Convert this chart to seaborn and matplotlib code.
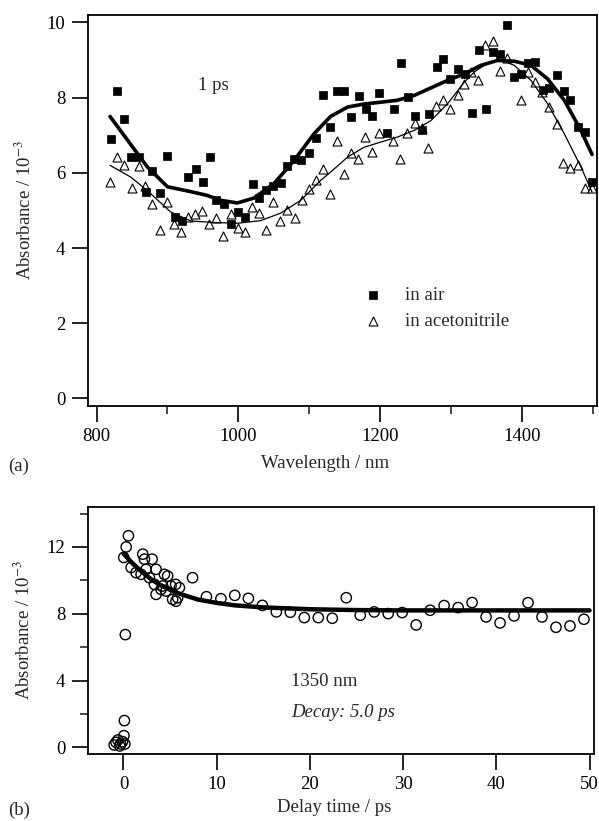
import numpy as np
import pandas as pd
import matplotlib
matplotlib.use("Agg")
import matplotlib.pyplot as plt
import seaborn as sns
from matplotlib.ticker import MultipleLocator

# ==== dados (a): espectro a 1 ps
ar_x = [820, 829, 838.5, 849, 860, 870, 878.6, 889, 900, 910.5, 920, 929, 940, 950, 959.5,
        968, 980, 990, 1000, 1009, 1020, 1029, 1038.5, 1049, 1060, 1069, 1078.5, 1088, 1100,
        1109.5, 1119, 1129, 1139, 1149, 1159, 1170, 1179.5, 1189, 1198.5, 1209, 1219.7, 1229,
        1239, 1249, 1258.7, 1269, 1280, 1289, 1298.6, 1309, 1319.7, 1329, 1339.6, 1349, 1359,
        1368.7, 1379.5, 1389, 1398, 1408.8, 1418.6, 1429, 1438.4, 1448.8, 1459.6, 1468, 1478.4,
        1488.8, 1498.7]
ar_y = [6.9, 8.19, 7.42, 6.42, 6.42, 5.49, 6.06, 5.46, 6.45, 4.83, 4.72, 5.9, 6.09, 5.75, 6.42,
        5.28, 5.17, 4.63, 4.96, 4.83, 5.7, 5.34, 5.55, 5.66, 5.73, 6.18, 6.37, 6.33, 6.52,
        6.93, 8.06, 7.23, 8.19, 8.17, 7.48, 8.04, 7.7, 7.5, 8.13, 7.06, 7.69, 8.93,
        8.02, 7.5, 7.13, 7.57, 8.81, 9.02, 8.5, 8.77, 8.62, 7.6, 9.26, 7.7, 9.21,
        9.15, 9.92, 8.55, 8.62, 8.92, 8.94, 8.21, 8.26, 8.59, 8.19, 7.95, 7.22,
        7.1, 5.76]

acn_x = [818.8, 829, 838.5, 849.4, 859.7, 869, 878.6, 889, 898.8, 909, 918.6, 929, 938.7, 949,
         958.5, 969, 978.7, 989, 999.3, 1009.3, 1018.8, 1029, 1039.4, 1048.8, 1058.7, 1069,
         1079.5, 1089.3, 1099.7, 1109, 1119, 1129, 1138.7, 1149, 1159.4, 1168.8, 1178.7, 1189,
         1198.5, 1218, 1228, 1238.4, 1248.8, 1258.7, 1268, 1278.5, 1288.8, 1298, 1309, 1318.5,
         1328, 1338.3, 1348, 1358.5, 1368.7, 1378.7, 1398.4, 1408.7, 1418.2, 1428, 1438.4,
         1448.8, 1458, 1468, 1478.4, 1488.8, 1498.7]
acn_y = [5.75, 6.42, 6.22, 5.6, 6.18, 5.66, 5.16, 4.47, 5.22, 4.65, 4.42, 4.82, 4.91, 4.98,
         4.65, 4.8, 4.32, 4.91, 4.54, 4.44, 5.09, 4.93, 4.48, 5.22, 4.73, 5.0,
         4.8, 5.28, 5.58, 5.8, 6.11, 5.43, 6.84, 5.97, 6.52, 6.37, 6.96, 6.56,
         7.06, 6.84, 6.37, 7.06, 7.32, 7.19, 6.66, 7.77, 7.94, 7.7, 8.07, 8.37,
         8.68, 8.48, 9.41, 9.5, 8.72, 9.06, 7.94, 8.68, 8.41, 8.15, 7.75,
         7.31, 6.27, 6.13, 6.22, 5.6, 5.6]

# curvas suavizadas
ar_fit_x = [819, 871.5, 900, 933, 956, 975, 998.6, 1022, 1050, 1078.5, 1106.7, 1130, 1154, 1177,
            1201, 1224, 1248, 1271.5, 1295, 1318.5, 1342, 1365.6, 1389, 1412.6, 1436, 1459.6,
            1483, 1498.7]
ar_fit_y = [7.5, 6.16, 5.63, 5.5, 5.4, 5.27, 5.2, 5.33, 5.71, 6.33, 7.04, 7.5, 7.75, 7.83,
            7.88, 7.93, 8.06, 8.26, 8.46, 8.63, 8.86, 8.99, 8.97, 8.86, 8.5, 7.93,
            7.13, 6.49]
acn_fit_x = [819, 848, 871.5, 904.5, 933, 965.6, 998.6, 1031.5, 1059.7, 1088, 1116, 1130, 1154,
             1177, 1201, 1224, 1248, 1271.5, 1295, 1318.5, 1332.5, 1351.4, 1370, 1389, 1412.6,
             1436, 1459.6, 1483, 1498.7]
acn_fit_y = [6.2, 5.89, 5.53, 4.96, 4.72, 4.68, 4.66, 4.73, 4.93, 5.27, 5.8, 6.02, 6.42,
             6.68, 6.82, 6.95, 7.13, 7.39, 7.84, 8.41, 8.68, 8.92, 9.0, 8.86, 8.46,
             7.84, 7.04, 6.16, 5.49]

# ==== dados (b): cinética a 1350 nm
t = [-1.0, -0.6, -0.3, -0.1, -0.4, -0.8, 0.05, 0.1, 0.15, 0.2, 0.03, 0.29, 0.53,
     0.82, 1.35, 1.89, 2.07, 2.25, 2.42, 2.78, 3.07, 3.32, 3.5, 3.5, 4.03, 4.2, 4.39, 4.56,
     4.74, 5.1, 5.27, 5.6, 5.63, 5.81, 6.0, 7.41, 8.9, 10.45, 11.94, 13.4, 14.9, 16.4,
     17.9, 19.4, 20.9, 22.4, 23.9, 25.4, 26.9, 28.4, 29.9, 31.4, 32.9, 34.4, 35.9,
     37.4, 38.9, 40.4, 41.9, 43.4, 44.9, 46.4, 47.9, 49.4]
absb = [0.14, 0.44, 0.2, 0.34, 0.08, 0.3, 0.7, 1.6, 0.2, 6.75, 11.37, 12.0, 12.67,
        10.77, 10.46, 10.36, 11.57, 11.27, 10.66, 10.16, 11.27, 9.76, 10.66, 9.16, 9.46, 9.66,
        10.36, 9.36, 10.26, 9.66, 8.86, 9.76, 8.75, 8.96, 9.56, 10.16, 9.02, 8.9, 9.1, 8.92,
        8.5, 8.11, 8.09, 7.77, 7.77, 7.73, 8.96, 7.91, 8.11, 8.01, 8.07, 7.33, 8.21,
        8.49, 8.37, 8.67, 7.81, 7.45, 7.87, 8.66, 7.81, 7.19, 7.27, 7.67]
t_fit = [0, 1, 2, 3, 4, 5, 6, 8, 10, 12, 15, 20, 25, 30, 40, 50]
abs_fit = [11.6, 11.0, 10.5, 10.05, 9.7, 9.45, 9.2, 8.85, 8.65, 8.5, 8.38, 8.27, 8.22,
           8.2, 8.2, 8.2]

df_ar = pd.DataFrame({"x": ar_x, "y": ar_y})
df_acn = pd.DataFrame({"x": acn_x, "y": acn_y})
df_b = pd.DataFrame({"t": t, "a": absb})

sns.set_style("ticks")
plt.rcParams["font.family"] = ["Liberation Serif", "DejaVu Serif"]
plt.rcParams["mathtext.fontset"] = "stix"
fs = 13.5

fig = plt.figure(figsize=(5.99, 8.21), dpi=100)
ax1 = fig.add_axes([0.147, 0.5055, 0.850, 0.4763])
ax2 = fig.add_axes([0.147, 0.0816, 0.845, 0.301])

# ==== (a)
sns.scatterplot(data=df_acn, x="x", y="y", ax=ax1, marker="^", s=42, facecolor="white",
                edgecolor="black", linewidth=0.8, label="in acetonitrile", zorder=3)
sns.scatterplot(data=df_ar, x="x", y="y", ax=ax1, marker="s", s=38, color="black",
                edgecolor="black", linewidth=0.5, label="in air", zorder=4)
sns.lineplot(x=ar_fit_x, y=ar_fit_y, ax=ax1, color="black", linewidth=2.6, zorder=5)
sns.lineplot(x=acn_fit_x, y=acn_fit_y, ax=ax1, color="black", linewidth=0.9, zorder=5)

ax1.set_xlim(788, 1506)
ax1.set_ylim(-0.2, 10.2)
ax1.xaxis.set_major_locator(MultipleLocator(200))
ax1.xaxis.set_minor_locator(MultipleLocator(100))
ax1.yaxis.set_major_locator(MultipleLocator(2))
ax1.set_xlabel("Wavelength / nm", fontsize=fs)
ax1.set_ylabel("Absorbance / 10$^{-3}$", fontsize=fs)
ax1.xaxis.set_label_coords(0.466, -0.125)
ax1.yaxis.set_label_coords(-0.105, 0.5)
ax1.text(965, 8.32, "1 ps", fontsize=fs, ha="center", va="center")

h, l = ax1.get_legend_handles_labels()
ax1.legend([h[1], h[0]], [l[1], l[0]], loc="center left", bbox_to_anchor=(0.541, 0.249),
           frameon=False, fontsize=fs, handlelength=1.0, handletextpad=1.2, borderpad=0,
           borderaxespad=0, labelspacing=0.45)

# ==== (b)
sns.scatterplot(data=df_b, x="t", y="a", ax=ax2, marker="o", s=55, facecolor="none",
                edgecolor="black", linewidth=1.0, zorder=3)
sns.lineplot(x=t_fit, y=abs_fit, ax=ax2, color="black", linewidth=3.2, zorder=4)

ax2.set_xlim(-3.8, 50.5)
ax2.set_ylim(-0.4, 14.4)
ax2.xaxis.set_major_locator(MultipleLocator(10))
ax2.yaxis.set_major_locator(MultipleLocator(4))
ax2.yaxis.set_minor_locator(MultipleLocator(2))
ax2.set_xlabel("Delay time / ps", fontsize=fs)
ax2.set_ylabel("Absorbance / 10$^{-3}$", fontsize=fs)
ax2.xaxis.set_label_coords(0.486, -0.182)
ax2.yaxis.set_label_coords(-0.106, 0.5)
ax2.text(18, 3.95, "1350 nm", fontsize=fs, ha="left", va="center")
ax2.text(18, 2.08, "Decay: 5.0 ps", fontsize=fs, ha="left", va="center", style="italic")

for ax in (ax1, ax2):
    for sp in ax.spines.values():
        sp.set_visible(True)
        sp.set_linewidth(1.3)
        sp.set_color("black")
    ax.tick_params(axis="x", which="major", pad=4)
    ax.tick_params(axis="y", which="major", pad=5)
    ax.tick_params(which="major", direction="out", length=11.5, width=1.2, labelsize=fs,
                   top=False, right=False, colors="black")
    ax.tick_params(which="minor", direction="out", length=6, width=1.2, top=False, right=False)

fig.text(0.013, 0.432, "(a)", fontsize=fs, ha="left", va="center")
fig.text(0.013, 0.013, "(b)", fontsize=fs, ha="left", va="center")

fig.savefig("out.png", dpi=100, facecolor="white")
